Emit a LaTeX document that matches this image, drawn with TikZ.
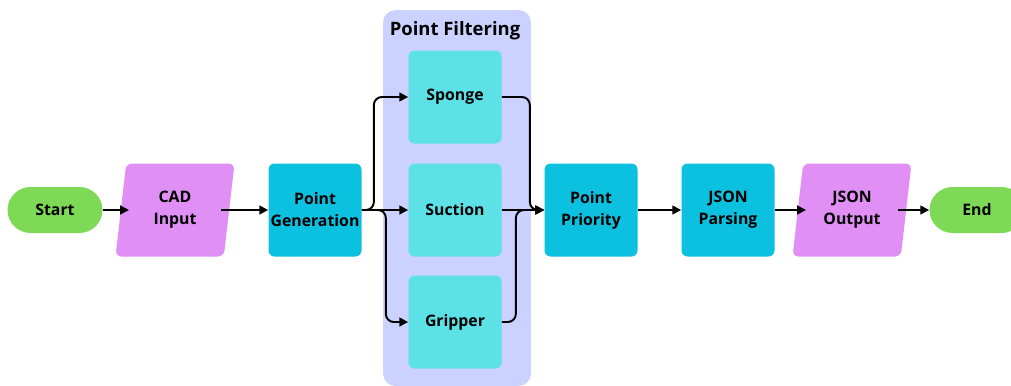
\documentclass[tikz,border=0pt]{standalone}
\usepackage{fontspec}
\setmainfont{Open Sans}
\usetikzlibrary{arrows.meta}
\usetikzlibrary{positioning}
\usetikzlibrary{shapes.geometric}
\usetikzlibrary{backgrounds}
\definecolor{StartGreen}{RGB}{126,217,87}
\definecolor{InputPurple}{RGB}{224,143,245}
\definecolor{ProcessBlue}{RGB}{12,192,223}
\definecolor{FilterCyan}{RGB}{92,225,230}
\definecolor{GroupLavender}{RGB}{203,210,255}

\begin{document}
\begin{tikzpicture}[
  node distance=2.8cm,
  on grid,
  font=\fontsize{9}{12.5}\selectfont\bfseries,
  terminal/.style={rounded corners=0.46cm, fill=StartGreen, minimum width=1.9cm, minimum height=0.92cm},
  io/.style={trapezium, trapezium left angle=74, trapezium right angle=106, trapezium stretches body,
    rounded corners=0.12cm, fill=InputPurple, minimum width=2.38cm, minimum height=1.86cm, align=center, inner sep=0pt},
  process/.style={rounded corners=0.12cm, fill=ProcessBlue, minimum size=1.86cm, align=center, inner sep=0pt},
  filter/.style={process, fill=FilterCyan},
  flow/.style={-{Triangle[length=5pt,width=5pt]}, line width=1.1pt, rounded corners=0.16cm},
  ]

\useasboundingbox (0,4.2) rectangle (20.22,-3.5);

\node [terminal] (start) at (1.1,0) {Start};
\node [io] (cad) [right=2.4cm of start] {CAD\\Input};
\node [process] (pgen) [right=of cad] {Point\\Generation};
\node [filter] (suction) [right=of pgen] {Suction};
\node [filter] (sponge) [above=2.26cm of suction] {Sponge};
\node [filter] (gripper) [below=2.24cm of suction] {Gripper};
\node (title) [above=1.32cm of sponge, font=\fontsize{10.5}{12}\selectfont\bfseries] {Point Filtering};
\node [process] (prio) [right=2.72cm of suction] {Point\\Priority};
\node [process] (parse) [right=2.74cm of prio] {JSON\\Parsing};
\node [io] (out) [right=2.48cm of parse] {JSON\\Output};
\node [terminal] (end) [right=2.5cm of out] {End};

% group behind the three filters
\begin{scope}[on background layer]
\fill [GroupLavender, rounded corners=0.24cm]
  ([shift={(-0.5,0.8)}]sponge.north west) rectangle ([shift={(0.58,-0.34)}]gripper.south east);
\end{scope}

\draw [flow] (start) -- ([xshift=-0.92cm]cad.center);
\draw [flow] ([xshift=0.92cm]cad.center) -- (pgen);
\draw [flow] (pgen.east) -- ++(0.24,0) |- (sponge.west);
\draw [flow] (pgen.east) -- (suction.west);
\draw [flow] (pgen.east) -- ++(0.48,0) |- (gripper.west);
\draw [flow] (sponge.east) -- ++(0.56,0) |- (prio.west);
\draw [flow] (suction.east) -- (prio.west);
\draw [flow] (gripper.east) -- ++(0.28,0) |- (prio.west);
\draw [flow] (prio) -- (parse);
\draw [flow] (parse) -- ([xshift=-0.92cm]out.center);
\draw [flow] ([xshift=0.92cm]out.center) -- (end);
\end{tikzpicture}
\end{document}
